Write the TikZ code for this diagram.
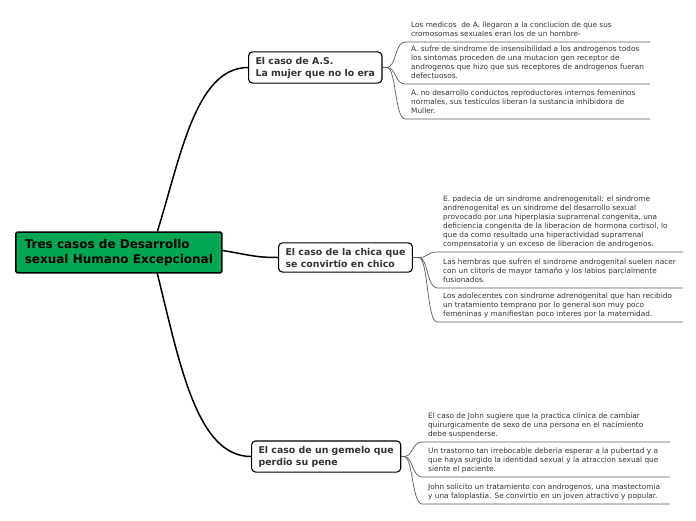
\documentclass[tikz,border=0pt]{standalone}
\usepackage{fontspec}
\setmainfont{DejaVu Sans}
\definecolor{rootgreen}{RGB}{0,166,81}
\definecolor{txtgray}{RGB}{51,51,51}
\definecolor{linegray}{RGB}{90,90,90}
\begin{document}
\begin{tikzpicture}[x=1pt,y=-1pt,
  rootbox/.style={draw=black,line width=1.6pt,fill=rootgreen,rounded corners=1.5pt,
    align=left,inner xsep=9pt,inner ysep=7pt,
    font=\fontsize{12}{15}\selectfont\bfseries,text=black},
  branchbox/.style={draw=black,line width=1.1pt,fill=white,rounded corners=4pt,
    align=left,inner xsep=7pt,inner ysep=5pt,
    font=\fontsize{9.4}{12}\selectfont\bfseries,text=txtgray},
  leaf/.style={align=left,inner xsep=6pt,inner ysep=2.3pt,anchor=south west,
    font=\fontsize{7.35}{9}\selectfont,text=txtgray,execute at end node=\strut},
  mainline/.style={line width=1.5pt,black},
  leafline/.style={line width=0.7pt,linegray}]
\useasboundingbox (0,0) rectangle (696,520);

% root
\node[rootbox,anchor=west] (root) at (15,252.5) {Tres casos de Desarrollo\\sexual Humano Excepcional};

% branches
\node[branchbox,anchor=west] (b1) at (248,67.5) {El caso de A.S.\\La mujer que no lo era};
\node[branchbox,anchor=west] (b2) at (278,257.5) {El caso de la chica que\\se convirtio en chico};
\node[branchbox,anchor=west] (b3) at (251,456.5) {El caso de un gemelo que\\perdio su pene};

% main connectors
\draw[mainline] ([xshift=38.5pt]root.north) .. controls (180,160) and (195,67.5) .. (b1.west);
\draw[mainline] ([yshift=2pt]root.east) .. controls (250,255) and (255,257.5) .. (b2.west);
\draw[mainline] ([xshift=38.5pt]root.south) .. controls (180,365) and (197,456.5) .. (b3.west);

% junctions
\coordinate (J1) at (387,67.5);
\coordinate (J2) at (419,257.5);
\coordinate (J3) at (404,456.5);
\coordinate (E1) at (650,0);
\coordinate (E2) at (683,0);
\coordinate (E3) at (670,0);

% branch 1 leaves
\node[leaf] (l11) at (405,42) {Los medicos\ \ de A. llegaron a la conclucion de que sus\\cromosomas sexuales eran los de un hombre-};
\node[leaf] (l12) at (405,84) {A. sufre de sindrome de insensibilidad a los androgenos todos\\los sintomas proceden de una mutacion gen receptor de\\androgenos que hizo que sus receptores de androgenos fueran\\defectuosos.};
\node[leaf] (l13) at (405,119) {A. no desarrollo conductos reproductores internos femeninos\\normales, sus testiculos liberan la sustancia inhibidora de\\Muller.};

% branch 2 leaves
\node[leaf] (l21) at (437,252) {E. padecia de un sindrome andrenogenitall: el sindrome\\andrenogenital es un sindrome del desarrollo sexual\\provocado por una hiperplasia suprarrenal congenita, una\\deficiencia congenita de la liberacion de hormona cortisol, lo\\que da como resultado una hiperactividad suprarrenal\\compensatoria y un exceso de liberacion de androgenos.};
\node[leaf] (l22) at (437,288) {Las hembras que sufren el sindrome androgenital suelen nacer\\con un clitoris de mayor tamaño y los labios parcialmente\\fusionados.};
\node[leaf] (l23) at (437,322) {Los adolecentes con sindrome adrenogenital que han recibido\\un tratamiento temprano por lo general son muy poco\\femeninas y manifiestan poco interes por la maternidad.};

% branch 3 leaves
\node[leaf] (l31) at (422,442) {El caso de John sugiere que la practica clinica de cambiar\\quirurgicamente de sexo de una persona en el nacimiento\\debe suspenderse.};
\node[leaf] (l32) at (422,477) {Un trastorno tan irrebocable deberia esperar a la pubertad y a\\que haya surgido la identidad sexual y la atraccion sexual que\\siente el paciente.};
\node[leaf] (l33) at (422,504) {John solicito un tratamiento con androgenos, una mastectomia\\y una faloplastia. Se convirtio en un joven atractivo y popular.};

% stubs
\draw[leafline] (b1.east) -- (J1);
\draw[leafline] (b2.east) -- (J2);
\draw[leafline] (b3.east) -- (J3);

% leaf connectors with underlines
\foreach \j/\e/\l in {J1/E1/l11,J1/E1/l12,J1/E1/l13,J2/E2/l21,J2/E2/l22,J2/E2/l23,J3/E3/l31,J3/E3/l32,J3/E3/l33}{
  \draw[leafline] (\j) .. controls +(9,0) and +(-10,0) .. (\l.south west) -- (\l.south west -| \e);
}
\end{tikzpicture}
\end{document}
